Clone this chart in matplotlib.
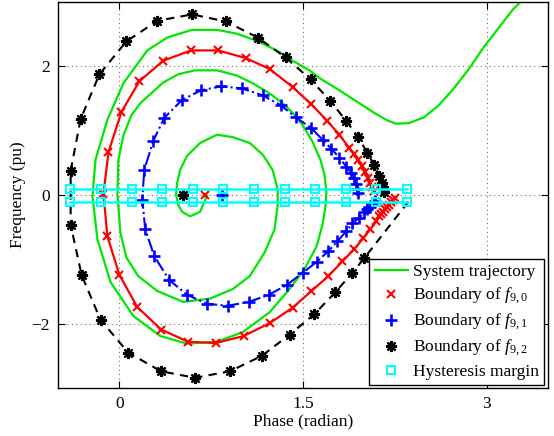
import matplotlib
matplotlib.use('Agg')
import matplotlib.pyplot as plt

plt.rcParams['font.family'] = ['Liberation Serif', 'DejaVu Serif']
plt.rcParams['mathtext.fontset'] = 'custom'
plt.rcParams['mathtext.rm'] = 'Liberation Serif'
plt.rcParams['mathtext.it'] = 'Liberation Serif:italic'
plt.rcParams['font.size'] = 12.5

# system trajectory (phase in rad, frequency in pu), spiralling out
traj_phase = [0.715, 0.659, 0.577, 0.512, 0.480, 0.463, 0.472, 0.496, 0.553, 0.659,
              0.797, 0.927, 1.065, 1.171, 1.252, 1.293, 1.293, 1.268, 1.187, 1.065,
              0.927, 0.740, 0.520, 0.309, 0.154, 0.057, 0.008, -0.016, -0.008, 0.033,
              0.098, 0.171, 0.252, 0.358, 0.480, 0.618, 0.797, 0.959, 1.089, 1.228,
              1.333, 1.415, 1.496, 1.577, 1.642, 1.675, 1.691, 1.683, 1.659, 1.610,
              1.512, 1.390, 1.228, 1.008, 0.797, 0.553, 0.333, 0.114, -0.073, -0.179,
              -0.220, -0.195, -0.098, 0.033, 0.228, 0.390, 0.593, 0.797, 0.959, 1.122,
              1.285, 1.415, 1.553, 1.634, 1.797, 1.959, 2.081, 2.179, 2.260, 2.366,
              2.488, 2.610, 2.732, 2.854, 2.976, 3.098, 3.211, 3.301]
traj_freq = [-0.01, -0.26, -0.33, -0.26, -0.15, 0.01, 0.19, 0.39, 0.61, 0.81,
             0.94, 0.90, 0.81, 0.63, 0.39, 0.09, -0.15, -0.53, -0.89, -1.26,
             -1.46, -1.61, -1.66, -1.49, -1.26, -0.97, -0.58, 0.01, 0.55, 0.93,
             1.24, 1.43, 1.57, 1.75, 1.88, 1.94, 1.94, 1.86, 1.74, 1.58,
             1.43, 1.28, 1.09, 0.83, 0.55, 0.32, 0.05, -0.18, -0.46, -0.80,
             -1.15, -1.46, -1.82, -2.13, -2.28, -2.31, -2.19, -1.88, -1.35, -0.69,
             -0.02, 0.55, 1.17, 1.74, 2.25, 2.45, 2.57, 2.57, 2.51, 2.40,
             2.25, 2.09, 1.94, 1.82, 1.63, 1.43, 1.28, 1.17, 1.11, 1.12,
             1.21, 1.40, 1.66, 1.96, 2.30, 2.60, 2.88, 3.05]

# boundary of f_9,0
b0_phase = [2.081, 2.065, 2.049, 2.033, 2.008, 1.984, 1.951, 1.919, 1.878, 1.797,
            1.699, 1.569, 1.415, 1.228, 1.033, 0.805, 0.585, 0.358, 0.163, 0.016,
            -0.089, -0.130, -0.098, 0.000, 0.146, 0.341, 0.561, 0.789, 1.016, 1.228,
            1.415, 1.569, 1.707, 1.821, 1.919, 1.992, 2.049, 2.098, 2.122, 2.138,
            2.154, 2.171, 2.187, 2.203, 2.220, 2.236, 2.252]
b0_freq = [0.07, 0.13, 0.19, 0.27, 0.36, 0.46, 0.55, 0.64, 0.73, 0.94,
           1.15, 1.41, 1.68, 1.96, 2.13, 2.25, 2.25, 2.09, 1.77, 1.29,
           0.67, 0.02, -0.64, -1.24, -1.74, -2.09, -2.28, -2.30, -2.19, -1.99,
           -1.75, -1.49, -1.26, -1.03, -0.84, -0.67, -0.53, -0.41, -0.33, -0.30,
           -0.26, -0.22, -0.18, -0.15, -0.11, -0.07, -0.04]
b0_sep = 0.70

# boundary of f_9,1
b1_phase = [1.951, 1.943, 1.935, 1.919, 1.894, 1.854, 1.797, 1.732, 1.659, 1.569,
            1.439, 1.317, 1.171, 1.000, 0.829, 0.667, 0.512, 0.366, 0.276, 0.203,
            0.187, 0.211, 0.285, 0.407, 0.553, 0.715, 0.886, 1.057, 1.220, 1.366,
            1.496, 1.610, 1.707, 1.780, 1.854, 1.902, 1.959, 2.000, 2.024, 2.049,
            2.065, 2.089]
b1_freq = [0.04, 0.10, 0.18, 0.27, 0.35, 0.44, 0.58, 0.72, 0.86, 1.04,
           1.21, 1.40, 1.55, 1.66, 1.69, 1.63, 1.48, 1.20, 0.84, 0.39,
           -0.07, -0.53, -0.95, -1.32, -1.55, -1.69, -1.72, -1.66, -1.55, -1.40,
           -1.21, -1.04, -0.87, -0.72, -0.56, -0.44, -0.35, -0.27, -0.22, -0.18,
           -0.13, -0.09]
b1_sep = 0.84

# boundary of f_9,2 (last point is the end of the dashed line, no marker)
b2_phase = [2.163, 2.154, 2.146, 2.122, 2.081, 2.024, 1.951, 1.854, 1.724, 1.561,
            1.358, 1.130, 0.870, 0.593, 0.309, 0.057, -0.163, -0.317, -0.398, -0.398,
            -0.309, -0.154, 0.073, 0.341, 0.618, 0.902, 1.163, 1.390, 1.593, 1.764,
            1.902, 2.000, 2.382]
b2_freq = [0.05, 0.12, 0.19, 0.29, 0.47, 0.66, 0.90, 1.15, 1.46, 1.80,
           2.14, 2.45, 2.70, 2.81, 2.71, 2.39, 1.88, 1.18, 0.38, -0.46,
           -1.24, -1.94, -2.45, -2.74, -2.84, -2.74, -2.50, -2.17, -1.85, -1.51,
           -1.21, -0.98, -0.05]
b2_sep = 0.52

# hysteresis margin
hyst_phase = [-0.40, -0.15, 0.10, 0.35, 0.60, 0.85, 1.10, 1.35, 1.60, 1.85, 2.10, 2.35]
hyst_upper = [0.1] * len(hyst_phase)
hyst_lower = [-0.1] * len(hyst_phase)

green = '#00e600'
cyan = '#00ffff'
asterisk = (8, 2, 0)

fig = plt.figure(figsize=(5.54, 4.36), dpi=100)
ax = fig.add_axes([0.105, 0.110, 0.884, 0.885])

ht, = ax.plot(traj_phase, traj_freq, color=green, lw=1.6, label='System trajectory')

ax.plot(b0_phase, b0_freq, '-', color='r', lw=1.6)
h0, = ax.plot(b0_phase + [b0_sep], b0_freq + [0.0], 'x', color='r', ms=6, mew=1.5,
              label='Boundary of $f_{\\mathit{9,0}}$')

ax.plot(b1_phase, b1_freq, '-.', color='b', lw=1.5)
h1, = ax.plot(b1_phase + [b1_sep], b1_freq + [0.0], '+', color='b', ms=9, mew=1.9,
              label='Boundary of $f_{\\mathit{9,1}}$')

ax.plot(b2_phase, b2_freq, '--', color='k', lw=1.5, dashes=(4, 3))
h2, = ax.plot(b2_phase[:-1] + [b2_sep], b2_freq[:-1] + [0.0], ls='none', marker=asterisk,
              color='k', ms=8, mew=1.6, label='Boundary of $f_{\\mathit{9,2}}$')

ax.plot(hyst_phase, hyst_upper, '-', color=cyan, lw=1.8)
ax.plot(hyst_phase, hyst_lower, '-', color=cyan, lw=1.8)
hh, = ax.plot(hyst_phase + hyst_phase, hyst_upper + hyst_lower, 's', color=cyan, ms=6,
              mfc='none', mew=1.5, label='Hysteresis margin')

ax.set_xlim(-0.5, 3.5)
ax.set_ylim(-3, 3)
ax.set_xticks([0, 1.5, 3])
ax.set_xticklabels(['0', '1.5', '3'])
ax.set_yticks([-2, 0, 2])
ax.grid(True, ls=(0, (1, 3)), color='0.45', lw=0.8)
ax.tick_params(direction='in', top=True, right=True, length=5, width=0.8, pad=6)
for s in ax.spines.values():
    s.set_linewidth(1.0)

ax.set_xlabel('Phase (radian)', labelpad=1)
ax.set_ylabel('Frequency (pu)', labelpad=4)

handles = [ht, h0, h1, h2, hh]
labels = [h.get_label() for h in handles]
leg = ax.legend(handles, labels, loc='lower right', bbox_to_anchor=(0.992, 0.008),
                borderaxespad=0, fancybox=False, framealpha=1, edgecolor='k',
                handlelength=1.9, handletextpad=0.3, labelspacing=0.3, borderpad=0.3,
                numpoints=1)
leg.get_frame().set_linewidth(1.0)

fig.savefig('out.png', dpi=100)
